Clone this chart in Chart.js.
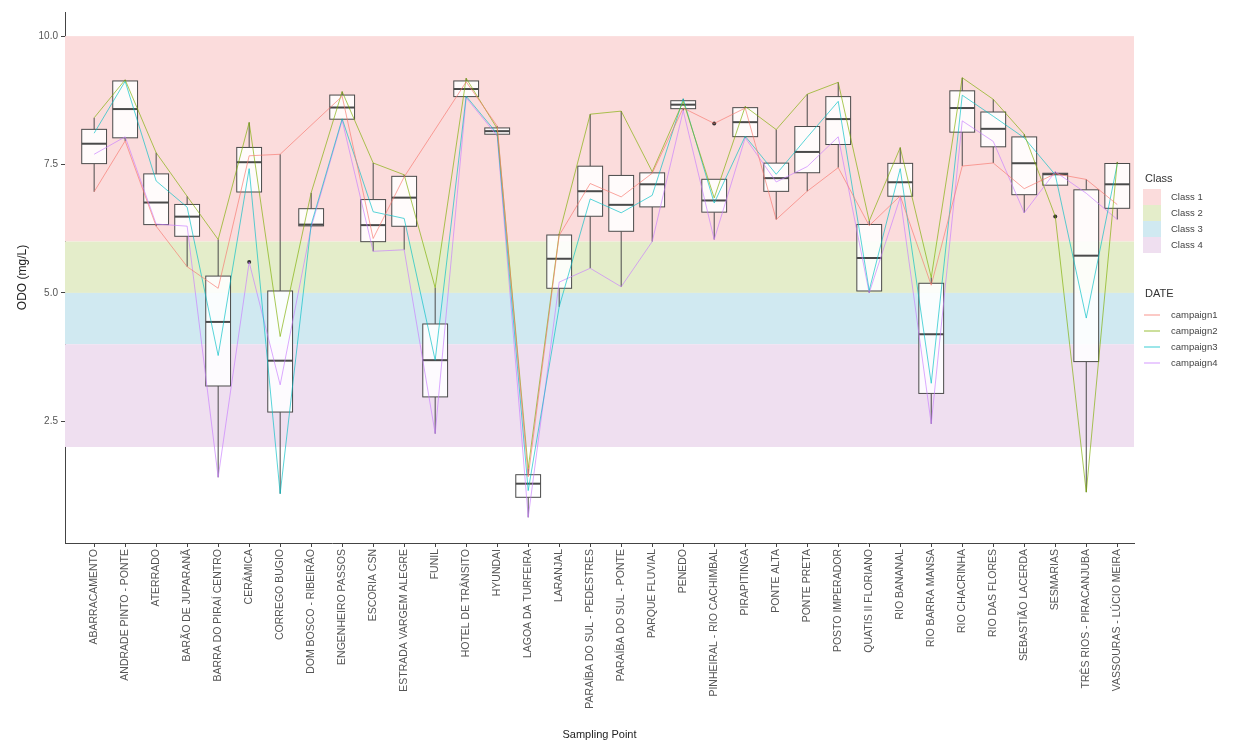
<!DOCTYPE html>
<html>
<head>
<meta charset="utf-8">
<script src="https://cdn.jsdelivr.net/npm/chart.js"></script>
<style>
  body { margin: 0; background: #fff; }
  #wrap { width: 1256px; height: 742px; }
</style>
</head>
<body>
<div id="wrap"><canvas id="odoChart" width="1256" height="742"></canvas></div>
<script>
const sites = [
  'ABARRACAMENTO', 'ANDRADE PINTO - PONTE', 'ATERRADO', 'BARÃO DE JUPARANÃ',
  'BARRA DO PIRAÍ CENTRO', 'CERÂMICA', 'CORREGO BUGIO', 'DOM BOSCO - RIBEIRÃO',
  'ENGENHEIRO PASSOS', 'ESCORIA CSN', 'ESTRADA VARGEM ALEGRE', 'FUNIL',
  'HOTEL DE TRÂNSITO', 'HYUNDAI', 'LAGOA DA TURFEIRA', 'LARANJAL',
  'PARAÍBA DO SUL - PEDESTRES', 'PARAÍBA DO SUL - PONTE', 'PARQUE FLUVIAL', 'PENEDO',
  'PINHEIRAL - RIO CACHIMBAL', 'PIRAPITINGA', 'PONTE ALTA', 'PONTE PRETA',
  'POSTO IMPERADOR', 'QUATIS II FLORIANO', 'RIO BANANAL', 'RIO BARRA MANSA',
  'RIO CHACRINHA', 'RIO DAS FLORES', 'SEBASTIÃO LACERDA', 'SESMARIAS',
  'TRÊS RIOS - PIRACANJUBA', 'VASSOURAS - LÚCIO MEIRA'
];

const campaign1 = [6.97, 7.96, 6.30, 5.51, 5.09, 7.67, 7.70, null, 8.83, 6.06, 7.26, null,
  9.11, 8.25, 1.42, 6.12, 7.13, 6.87, 7.33, 8.60, 8.30, 8.60, 6.43, 6.98,
  7.44, 6.31, 6.89, 5.15, 7.47, 7.53, 7.03, 7.32, 7.21, 6.72];
const campaign2 = [8.41, 9.15, 7.73, 6.88, 6.04, 8.32, 4.15, 6.95, 8.92, 7.53, 7.30, 5.10,
  9.18, 8.20, 1.58, 6.15, 8.48, 8.54, 7.36, 8.73, 6.85, 8.63, 8.18, 8.87,
  9.10, 6.40, 7.83, 5.30, 9.19, 8.77, 8.09, 6.49, 1.12, 7.55];
const campaign3 = [8.11, 9.12, 7.18, 6.67, 3.78, 7.42, 1.09, 6.33, 8.39, 6.58, 6.45, 3.69,
  8.83, 8.10, 1.15, 4.73, 6.83, 6.56, 6.90, 8.78, 6.75, 8.05, 7.31, 8.03,
  8.73, 5.05, 7.42, 3.24, 8.85, 8.44, 8.02, 7.30, 4.51, 7.51];
const campaign4 = [7.70, 8.04, 6.34, 6.30, 1.41, 5.60, 3.21, 6.28, 8.36, 5.81, 5.84, 2.26,
  8.80, 8.06, 0.63, 5.21, 5.48, 5.12, 6.00, 8.55, 6.04, 8.02, 7.16, 7.46,
  8.04, 5.00, 6.86, 2.45, 8.35, 7.95, 6.56, 7.36, 6.94, 6.43];

const campaignNames = ['campaign1', 'campaign2', 'campaign3', 'campaign4'];
const campaignColors = ['rgba(248,118,109,0.65)', 'rgba(124,174,0,0.65)', 'rgba(0,191,196,0.65)', 'rgba(199,124,255,0.65)'];

const classNames = ['Class 1', 'Class 2', 'Class 3', 'Class 4'];
const classLow = [6, 5, 4, 2];
const classHigh = [10, 6, 5, 4];
const classColors = ['#fbdcdc', '#e4edca', '#d0e9f1', '#efdff0'];

const yTicks = [2.5, 5, 7.5, 10];

const campaigns = [campaign1, campaign2, campaign3, campaign4];
const axisFont = 'Liberation Sans, Arial, sans-serif';

// quartiles like R type 7
function quantile(sorted, p) {
  const h = (sorted.length - 1) * p;
  const lo = Math.floor(h);
  const hi = Math.min(lo + 1, sorted.length - 1);
  return sorted[lo] + (h - lo) * (sorted[hi] - sorted[lo]);
}

function boxStats(i) {
  const vals = campaigns.map(c => c[i]).filter(v => v !== null).sort((a, b) => a - b);
  const q1 = quantile(vals, 0.25), med = quantile(vals, 0.5), q3 = quantile(vals, 0.75);
  const iqr = q3 - q1;
  const inside = vals.filter(v => v >= q1 - 1.5 * iqr && v <= q3 + 1.5 * iqr);
  const outliers = vals.filter(v => v < q1 - 1.5 * iqr || v > q3 + 1.5 * iqr);
  return { q1, med, q3, lo: Math.min(...inside), hi: Math.max(...inside), outliers };
}

const bandsAndBoxes = {
  id: 'bandsAndBoxes',
  beforeDatasetsDraw(chart) {
    const { ctx, chartArea: a, scales: { x, y } } = chart;
    ctx.save();
    classNames.forEach((_, k) => {
      const top = y.getPixelForValue(classHigh[k]);
      const bot = y.getPixelForValue(classLow[k]);
      ctx.fillStyle = classColors[k];
      ctx.fillRect(a.left, top, a.right - a.left, bot - top);
    });
    const half = x.getPixelForValue(0.4) - x.getPixelForValue(0);
    sites.forEach((_, i) => {
      const s = boxStats(i);
      const cx = x.getPixelForValue(i);
      const pq1 = y.getPixelForValue(s.q1), pq3 = y.getPixelForValue(s.q3);
      ctx.strokeStyle = '#4a4a4a';
      ctx.lineWidth = 1;
      ctx.beginPath();
      if (s.hi > s.q3) { ctx.moveTo(cx, pq3); ctx.lineTo(cx, y.getPixelForValue(s.hi)); }
      if (s.lo < s.q1) { ctx.moveTo(cx, pq1); ctx.lineTo(cx, y.getPixelForValue(s.lo)); }
      ctx.stroke();
      ctx.fillStyle = 'rgba(255,255,255,0.88)';
      ctx.fillRect(cx - half, pq3, 2 * half, pq1 - pq3);
      ctx.strokeRect(cx - half, pq3, 2 * half, pq1 - pq3);
      ctx.lineWidth = 2;
      ctx.beginPath();
      const pm = y.getPixelForValue(s.med);
      ctx.moveTo(cx - half, pm); ctx.lineTo(cx + half, pm);
      ctx.stroke();
      ctx.fillStyle = '#333';
      s.outliers.forEach(v => {
        ctx.beginPath();
        ctx.arc(cx, y.getPixelForValue(v), 2, 0, Math.PI * 2);
        ctx.fill();
      });
    });
    ctx.restore();
  },
  afterDraw(chart) {
    const ctx = chart.ctx;
    ctx.save();
    ctx.textBaseline = 'middle';
    ctx.fillStyle = '#333';
    ctx.font = '11px ' + axisFont;
    ctx.fillText('Class', 1145, 179);
    ctx.font = '9.5px ' + axisFont;
    classNames.forEach((n, k) => {
      const yy = 197 + k * 16;
      ctx.fillStyle = classColors[k];
      ctx.fillRect(1143, yy - 8, 18, 16);
      ctx.fillStyle = '#444';
      ctx.fillText(n, 1171, yy);
    });
    ctx.fillStyle = '#333';
    ctx.font = '11px ' + axisFont;
    ctx.fillText('DATE', 1145, 294);
    ctx.font = '9.5px ' + axisFont;
    campaignNames.forEach((n, k) => {
      const yy = 315 + k * 16;
      ctx.strokeStyle = campaignColors[k];
      ctx.lineWidth = 1.2;
      ctx.beginPath();
      ctx.moveTo(1144, yy); ctx.lineTo(1160, yy);
      ctx.stroke();
      ctx.fillStyle = '#444';
      ctx.fillText(n, 1171, yy);
    });
    ctx.restore();
  }
};

new Chart(document.getElementById('odoChart'), {
  type: 'line',
  data: {
    datasets: campaigns.map((c, k) => ({
      label: campaignNames[k],
      data: c.map((v, i) => ({ x: i, y: v })),
      borderColor: campaignColors[k],
      borderWidth: 1,
      pointRadius: 0,
      spanGaps: true,
      tension: 0
    }))
  },
  options: {
    responsive: false,
    animation: false,
    layout: { padding: { left: 0, right: 122, top: 12, bottom: 0 } },
    plugins: { legend: { display: false }, tooltip: { enabled: false } },
    scales: {
      x: {
        type: 'linear',
        min: -0.94,
        max: 33.54,
        afterBuildTicks: s => { s.ticks = sites.map((_, i) => ({ value: i })); },
        afterFit: s => { s.height = 199; },
        ticks: {
          autoSkip: false, minRotation: 90, maxRotation: 90, padding: 2,
          color: '#555', font: { family: axisFont, size: 10.5 },
          callback: v => sites[v]
        },
        grid: { display: true, drawOnChartArea: false, drawTicks: true, tickLength: 4, color: '#444' },
        border: { display: true, color: '#444', width: 1 },
        title: { display: true, text: 'Sampling Point', color: '#222', font: { family: axisFont, size: 11 }, padding: { top: 0, bottom: 0 } }
      },
      y: {
        min: 0.13,
        max: 10.47,
        afterBuildTicks: s => { s.ticks = yTicks.map(v => ({ value: v })); },
        afterFit: s => { s.width = 65; },
        ticks: { color: '#555', padding: 3, font: { family: axisFont, size: 10 }, callback: v => v.toFixed(1) },
        grid: { display: true, drawOnChartArea: false, drawTicks: true, tickLength: 4, color: '#444' },
        border: { display: true, color: '#444', width: 1 },
        title: { display: true, text: 'ODO (mg/L)', color: '#222', font: { family: axisFont, size: 12 }, padding: { top: 15, bottom: 0 } }
      }
    }
  },
  plugins: [bandsAndBoxes]
});
</script>
</body>
</html>
